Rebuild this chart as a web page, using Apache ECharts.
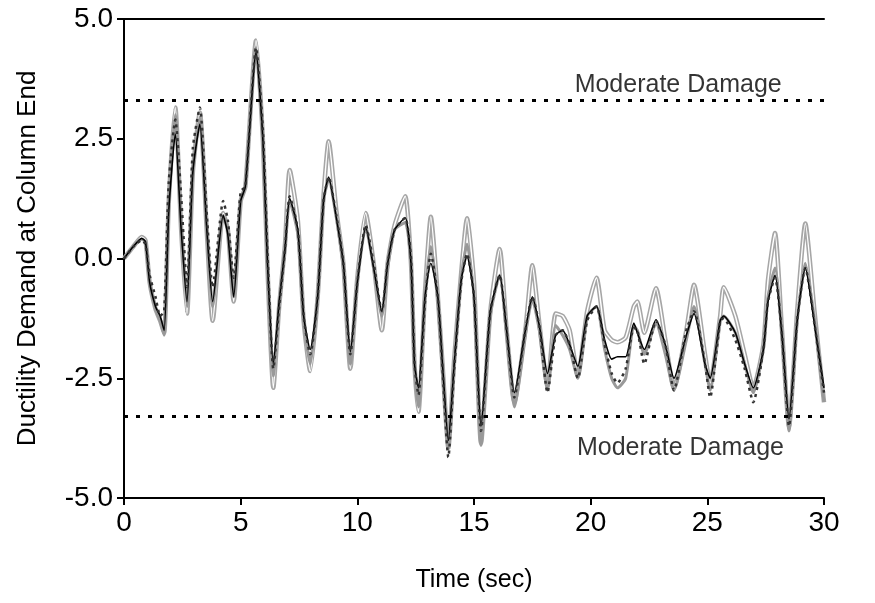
<!DOCTYPE html>
<html>
<head>
<meta charset="utf-8">
<script src="https://cdn.jsdelivr.net/npm/echarts@6/dist/echarts.min.js"></script>
<style>html,body{margin:0;padding:0;background:#fff;}#c{width:875px;height:603px;}</style>
</head>
<body>
<div id="c"></div>
<script>
const time = [0,0.4,0.76,0.92,1.1,1.35,1.55,1.72,1.92,2.2,
2.45,2.7,2.95,3.25,3.55,3.8,4.25,4.45,4.7,5.0,
5.2,5.66,5.95,6.15,6.4,6.65,6.9,7.1,7.45,7.7,
7.98,8.3,8.55,8.77,9.1,9.4,9.7,10.0,10.36,10.7,
11.05,11.3,11.6,12.05,12.3,12.45,12.62,12.9,13.15,13.45,
13.65,13.9,14.15,14.45,14.7,15.0,15.3,15.7,16.1,16.4,
16.73,17.2,17.5,17.8,18.15,18.5,18.8,19.1,19.45,19.85,
20.25,20.6,20.9,21.15,21.5,21.85,22.0,22.3,22.8,23.2,
23.57,24.1,24.43,24.9,25.12,25.55,25.7,26.2,26.6,26.97,
27.4,27.6,27.9,28.2,28.5,28.85,29.2,29.6,30.0];

const blackSolid = [0,0.25,0.42,0.35,-0.5,-1.0,-1.2,-1.5,1.0,2.6,
0.6,-0.9,1.8,2.8,0.6,-0.9,0.9,0.5,-0.8,1.2,
1.5,4.3,2.5,-0.1,-2.2,-0.9,0.2,1.25,0.6,-1.2,
-1.9,-0.8,1.2,1.7,0.85,-0.1,-1.95,-0.5,0.65,-0.2,
-1.1,-0.1,0.6,0.85,-0.1,-2.2,-2.7,-0.8,-0.1,-0.8,
-2.2,-3.8,-2.2,-0.45,0.05,-0.8,-3.5,-1.1,-0.35,-1.5,
-2.8,-1.5,-0.8,-1.4,-2.4,-1.6,-1.5,-1.8,-2.25,-1.2,
-1.0,-1.7,-2.1,-2.05,-2.05,-1.35,-1.55,-1.9,-1.28,-1.8,
-2.5,-1.6,-1.15,-2.2,-2.5,-1.3,-1.2,-1.55,-2.2,-2.7,
-1.9,-0.9,-0.35,-1.6,-3.35,-1.3,-0.2,-1.4,-2.7];

const blackDotted = [0,0.25,0.38,0.3,-0.35,-0.8,-1.2,-1.1,1.6,2.9,
1.3,-0.6,2.3,3.15,0.9,-0.6,1.2,0.8,-0.4,1.4,
1.5,4.4,2.7,0.1,-2.3,-1.0,0.2,1.3,0.6,-1.2,
-2.0,-0.8,1.2,1.7,0.9,-0.1,-2.0,-0.5,0.7,-0.1,
-1.1,-0.1,0.6,0.85,0,-2.2,-2.85,-0.9,0.1,-0.8,
-2.3,-4.15,-2.3,-0.5,0.1,-0.8,-3.6,-1.1,-0.35,-1.5,
-2.9,-1.5,-0.8,-1.4,-2.8,-1.6,-1.5,-1.8,-2.5,-1.3,
-1.0,-1.8,-2.4,-2.6,-2.3,-1.45,-1.5,-2.2,-1.3,-1.8,
-2.75,-1.5,-1.1,-2.2,-2.9,-1.3,-1.25,-1.7,-2.3,-3.0,
-1.9,-0.9,-0.4,-1.6,-3.5,-1.3,-0.2,-1.4,-2.8];

const graySolid = [0,0.25,0.4,0.35,-0.5,-1.05,-1.3,-1.6,1.1,3.0,
0.7,-1.0,1.8,2.95,0.6,-1.0,0.9,0.6,-0.8,1.2,
1.5,4.4,2.5,-0.1,-2.45,-1.0,0.2,1.2,0.5,-1.3,
-2.2,-0.8,1.2,1.65,0.85,-0.2,-2.2,-0.5,0.65,-0.2,
-1.2,-0.2,0.6,0.75,-0.1,-2.3,-3.1,-0.8,0.25,-0.9,
-2.4,-3.95,-2.3,-0.4,0.3,-0.8,-3.9,-1.2,-0.35,-1.6,
-3.1,-1.6,-0.85,-1.5,-2.75,-1.4,-1.6,-1.9,-2.5,-1.2,
-1.0,-1.9,-2.5,-2.7,-2.5,-1.4,-1.5,-2.0,-1.35,-2.0,
-2.75,-1.7,-1.0,-2.2,-2.75,-1.3,-1.2,-1.55,-2.2,-2.8,
-1.9,-0.8,-0.2,-1.6,-3.6,-1.3,-0.1,-1.3,-3.0];

const grayOutlined = [0,0.25,0.45,0.38,-0.5,-1.05,-1.3,-1.55,1.2,3.15,
0.6,-1.15,1.8,3.05,0.55,-1.3,0.95,0.6,-0.9,1.2,
1.5,4.55,2.5,-0.2,-2.7,-1.0,0.3,1.85,0.8,-1.3,
-2.35,-0.8,1.3,2.45,1.0,-0.1,-2.3,-0.4,0.95,-0.1,
-1.5,-0.1,0.7,1.3,-0.1,-2.2,-3.2,-0.7,0.87,-0.8,
-2.2,-3.95,-2.1,-0.3,0.84,-0.5,-3.85,-1.1,0.2,-1.5,
-3.0,-1.5,-0.14,-1.35,-2.65,-1.15,-1.2,-1.5,-2.45,-1.1,
-0.4,-1.5,-1.7,-1.75,-1.65,-1.0,-0.9,-1.55,-0.62,-1.7,
-2.7,-1.5,-0.55,-2.0,-2.6,-1.2,-0.6,-1.2,-2.0,-2.7,
-1.8,-0.45,0.53,-1.5,-3.5,-1.1,0.73,-1.14,-3.0];

const damageLevel = 3.3;
const damageLabel = 'Moderate Damage';
const xTicks = {min: 0, max: 30, interval: 5};
const yTicks = {min: -5, max: 5, interval: 2.5};

const pair = arr => time.map((t, i) => [t, arr[i]]);
const FONT = 'Liberation Sans, Arial, sans-serif';
const SM = 0.2;

const chart = echarts.init(document.getElementById('c'), null, {renderer: 'canvas'});
chart.setOption({
  animation: false,
  backgroundColor: '#fff',
  grid: {left: 124, right: 51, top: 19, bottom: 105, containLabel: false},
  xAxis: [{
    type: 'value', min: xTicks.min, max: xTicks.max, interval: xTicks.interval,
    name: 'Time (sec)', nameLocation: 'middle', nameGap: 70,
    nameTextStyle: {fontFamily: FONT, fontSize: 25, color: '#000'},
    axisLine: {show: true, onZero: false, lineStyle: {color: '#000', width: 2}},
    axisTick: {show: true, inside: false, length: 7, lineStyle: {color: '#000', width: 2}},
    axisLabel: {fontFamily: FONT, fontSize: 28, color: '#000', margin: 11},
    splitLine: {show: false}
  }, {
    type: 'value', position: 'top', min: xTicks.min, max: xTicks.max,
    axisLine: {show: true, onZero: false, lineStyle: {color: '#000', width: 2}},
    axisTick: {show: false}, axisLabel: {show: false}, splitLine: {show: false}
  }],
  yAxis: {
    type: 'value', min: yTicks.min, max: yTicks.max, interval: yTicks.interval,
    name: 'Ductility Demand at Column End', nameLocation: 'middle', nameGap: 83,
    nameTextStyle: {fontFamily: FONT, fontSize: 26, color: '#000'},
    axisLine: {show: true, onZero: false, lineStyle: {color: '#000', width: 2}},
    axisTick: {show: true, inside: false, length: 7, lineStyle: {color: '#000', width: 2}},
    axisLabel: {fontFamily: FONT, fontSize: 28, color: '#000', margin: 11,
      formatter: v => v.toFixed(1)},
    splitLine: {show: false}
  },
  series: [
    {type: 'line', name: 'outline', data: pair(grayOutlined), showSymbol: false, smooth: SM,
      lineStyle: {color: '#a6a6a6', width: 4.5}, z: 2},
    {type: 'line', name: 'outlineInner', data: pair(grayOutlined), showSymbol: false, smooth: SM,
      lineStyle: {color: '#ffffff', width: 1.5}, z: 3},
    {type: 'line', name: 'gray', data: pair(graySolid), showSymbol: false, smooth: SM,
      lineStyle: {color: '#999999', width: 3}, z: 4},
    {type: 'line', name: 'black', data: pair(blackSolid), showSymbol: false, smooth: SM,
      lineStyle: {color: '#000000', width: 1.6}, z: 5},
    {type: 'line', name: 'dotted', data: pair(blackDotted), showSymbol: false, smooth: SM,
      lineStyle: {color: '#333333', width: 2.5, type: [3, 4]}, z: 6},
    {type: 'line', name: 'upper', data: [[xTicks.min, damageLevel], [xTicks.max, damageLevel]],
      showSymbol: false, lineStyle: {color: '#000', width: 3, type: [4, 8]}, z: 7},
    {type: 'line', name: 'lower', data: [[xTicks.min, -damageLevel], [xTicks.max, -damageLevel]],
      showSymbol: false, lineStyle: {color: '#000', width: 3, type: [4, 8]}, z: 7},
    {type: 'scatter', name: 'labels', symbolSize: 0, z: 8,
      data: [[23.75, 3.62], [23.85, -3.96]],
      label: {show: true, position: 'inside', formatter: damageLabel,
        fontFamily: FONT, fontSize: 25, color: '#000', textBorderWidth: 0}}
  ]
});
</script>
</body>
</html>
